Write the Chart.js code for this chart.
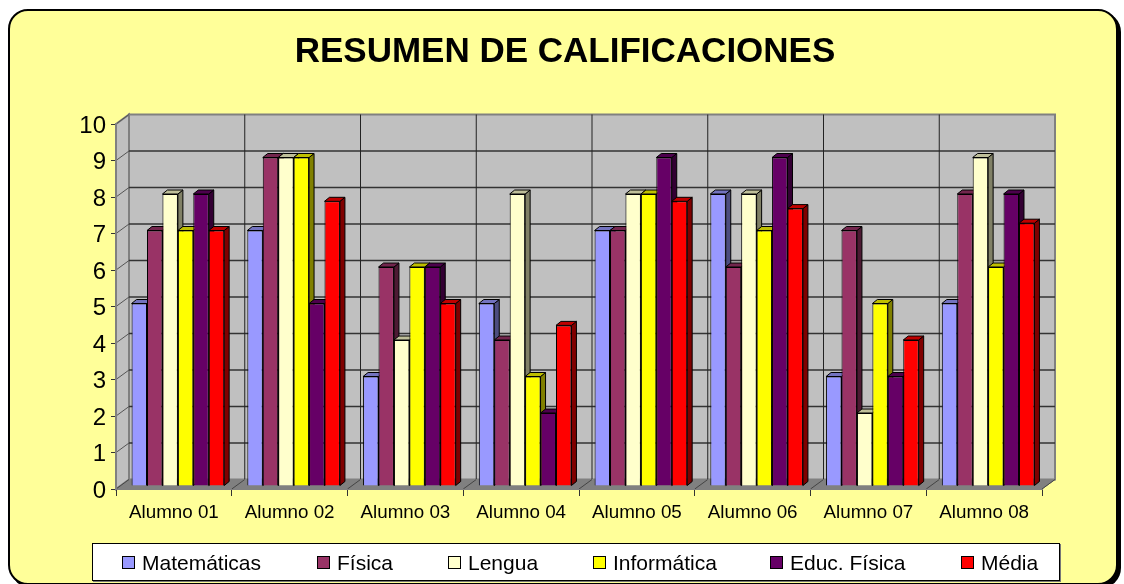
<!DOCTYPE html>
<html>
<head>
<meta charset="utf-8">
<title>Resumen de calificaciones</title>
<script src="https://cdn.jsdelivr.net/npm/chart.js@4"></script>
<style>
    html, body { margin: 0; padding: 0; background: #fff; overflow: hidden; }
    #wrap { position: relative; width: 1124px; height: 584px; font-family: "Liberation Sans", Arial, sans-serif; overflow: hidden; }
    #frame { position: absolute; left: 8px; top: 9px; width: 1106px; height: 572px; background: #ffff99; border: 2px solid #000; border-radius: 20px; box-shadow: 3px 3px 0 #000; }
    canvas { position: absolute; left: 0; top: 0; }
    #legend { position: absolute; left: 92px; top: 543px; width: 966px; height: 36px; background: #fff; border: 1px solid #000; box-shadow: 1px 1px 0 #777; }
    .item { position: absolute; top: 0; line-height: 37px; font-size: 21px; color: #000; white-space: nowrap; }
    .swatch { position: absolute; top: 12px; width: 11px; height: 11px; border: 1px solid #000; }
</style>
</head>
<body>
<div id="wrap">
    <div id="frame"></div>
    <canvas id="chart" width="1124" height="584"></canvas>
    <div id="legend"></div>
</div>
<script>
const chartTitle = 'RESUMEN DE CALIFICACIONES';
const alumnos = ['Alumno 01', 'Alumno 02', 'Alumno 03', 'Alumno 04', 'Alumno 05', 'Alumno 06', 'Alumno 07', 'Alumno 08'];
const seriesNames = ['Matemáticas', 'Física', 'Lengua', 'Informática', 'Educ. Física', 'Média'];

const matematicas = [5, 7, 3, 5, 7, 8, 3, 5];
const fisica = [7, 9, 6, 4, 7, 6, 7, 8];
const lengua = [8, 9, 4, 8, 8, 8, 2, 9];
const informatica = [7, 9, 6, 3, 8, 7, 5, 6];
const educFisica = [8, 5, 6, 2, 9, 9, 3, 8];
const media = [7, 7.8, 5, 4.4, 7.8, 7.6, 4, 7.2];

const seriesValues = [matematicas, fisica, lengua, informatica, educFisica, media];
const seriesColors = ['#9999ff', '#993366', '#ffffcc', '#ffff00', '#660066', '#ff0000'];

// left edge of each legend entry (swatch), inside the legend box
const legendOffsets = [29, 224, 355, 500, 677, 868];

// depth of the walls and of the bars
const wallDx = 13, wallDy = -9.5;
const barShiftX = 4, barShiftY = -3;
const barDx = 5, barDy = -4;

function shade(hex, k) {
    const n = parseInt(hex.slice(1), 16);
    const r = Math.round((n >> 16 & 255) * k);
    const g = Math.round((n >> 8 & 255) * k);
    const b = Math.round((n & 255) * k);
    return `rgb(${r}, ${g}, ${b})`;
}

function poly(ctx, points, fill, stroke, width) {
    ctx.beginPath();
    points.forEach((p, i) => i ? ctx.lineTo(p[0], p[1]) : ctx.moveTo(p[0], p[1]));
    ctx.closePath();
    if (fill) { ctx.fillStyle = fill; ctx.fill(); }
    if (stroke) { ctx.strokeStyle = stroke; ctx.lineWidth = width; ctx.stroke(); }
}

function line(ctx, x1, y1, x2, y2, color, width) {
    ctx.beginPath();
    ctx.moveTo(x1, y1);
    ctx.lineTo(x2, y2);
    ctx.strokeStyle = color;
    ctx.lineWidth = width;
    ctx.stroke();
}

// back wall, side wall and floor, placed from the scales
const wallsPlugin = {
    id: 'walls',
    afterLayout(chart) {
        // the title is centred on the frame, not on the plot
        chart.titleBlock.left += 6;
        chart.titleBlock.right += 6;
    },
    beforeDraw(chart) {
        const ctx = chart.ctx;
        const xs = chart.scales.x, ys = chart.scales.y;
        const l = xs.left, r = xs.right, t = ys.top, b = ys.bottom;
        ctx.save();
        poly(ctx, [[l + wallDx, t + wallDy], [r + wallDx, t + wallDy], [r + wallDx, b + wallDy], [l + wallDx, b + wallDy]], '#c0c0c0', '#808080', 2);
        poly(ctx, [[l, t], [l + wallDx, t + wallDy], [l + wallDx, b + wallDy], [l, b]], '#c0c0c0', '#808080', 2);
        ys.ticks.forEach(tick => {
            const y = ys.getPixelForValue(tick.value);
            if (tick.value === 0) return;
            if (tick.value < 10) line(ctx, l + wallDx, y + wallDy, r + wallDx, y + wallDy, '#333', 1.3);
            line(ctx, l, y, l + wallDx, y + wallDy, '#555', 1);
        });
        const step = (r - l) / alumnos.length;
        for (let i = 1; i < alumnos.length; i++) {
            const x = l + i * step + wallDx;
            line(ctx, x, t + wallDy, x, b + wallDy, '#222', 1);
        }
        poly(ctx, [[l, b], [l + wallDx, b + wallDy], [r + wallDx, b + wallDy], [r, b]], '#808080', '#808080', 1);
        for (let i = 0; i <= alumnos.length; i++) {
            const x = l + i * step;
            line(ctx, x, b, x + wallDx, b + wallDy, '#444', 1);
        }
        ctx.restore();
    }
};

// top and side faces of every bar, the front face comes from the library.
// Series are painted left to right so each bar covers the side of the one before it.
const bars3dPlugin = {
    id: 'bars3d',
    beforeDatasetsDraw(chart) {
        const ctx = chart.ctx;
        chart.getSortedVisibleDatasetMetas().forEach(meta => {
            const color = seriesColors[meta.index];
            ctx.save();
            ctx.translate(barShiftX, barShiftY);
            ctx.lineJoin = 'round';
            meta.data.forEach(bar => {
                const p = bar.getProps(['x', 'y', 'base', 'width'], true);
                const left = p.x - p.width / 2, right = p.x + p.width / 2;
                poly(ctx, [[right, p.y], [right + barDx, p.y + barDy], [right + barDx, p.base + barDy], [right, p.base]], shade(color, 0.5), '#000', 1);
                poly(ctx, [[left, p.y], [left + barDx, p.y + barDy], [right + barDx, p.y + barDy], [right, p.y]], shade(color, 0.75), '#000', 1);
            });
            meta.controller.draw();
            ctx.restore();
        });
        return false;
    }
};

const datasets = seriesNames.map((name, i) => ({
    label: name,
    data: seriesValues[i],
    backgroundColor: seriesColors[i],
    borderColor: '#000',
    borderWidth: 1
}));

new Chart(document.getElementById('chart'), {
    type: 'bar',
    data: { labels: alumnos, datasets: datasets },
    options: {
        responsive: false,
        animation: false,
        categoryPercentage: 0.8,
        barPercentage: 1,
        layout: { padding: { left: 76, right: 82, top: 0, bottom: 45 } },
        plugins: {
            legend: { display: false },
            tooltip: { enabled: false },
            title: {
                display: true,
                text: chartTitle,
                color: '#000',
                font: { family: '"Liberation Sans", Arial, sans-serif', size: 35, weight: 'bold', lineHeight: 1.2 },
                padding: { top: 31, bottom: 51 }
            }
        },
        scales: {
            x: {
                afterFit(scale) { scale.height = 50; },
                grid: { offset: true, drawOnChartArea: false, color: '#333', tickLength: 7 },
                border: { color: '#808080', width: 1 },
                ticks: {
                    color: '#000',
                    maxRotation: 0,
                    padding: 6,
                    font: { family: '"Liberation Sans", Arial, sans-serif', size: 18.8 }
                }
            },
            y: {
                min: 0,
                max: 10,
                afterFit(scale) { scale.width = 40; },
                grid: { drawOnChartArea: false, color: '#333', tickLength: 5 },
                border: { color: '#808080', width: 2 },
                ticks: {
                    stepSize: 1,
                    color: '#000',
                    padding: 5,
                    labelOffset: 2,
                    font: { family: '"Liberation Sans", Arial, sans-serif', size: 24 }
                }
            }
        }
    },
    plugins: [wallsPlugin, bars3dPlugin]
});

const legend = document.getElementById('legend');
seriesNames.forEach((name, i) => {
    const swatch = document.createElement('div');
    swatch.className = 'swatch';
    swatch.style.left = `${legendOffsets[i]}px`;
    swatch.style.background = seriesColors[i];
    legend.appendChild(swatch);
    const item = document.createElement('div');
    item.className = 'item';
    item.style.left = `${legendOffsets[i] + 20}px`;
    item.textContent = name;
    legend.appendChild(item);
});
</script>
</body>
</html>
